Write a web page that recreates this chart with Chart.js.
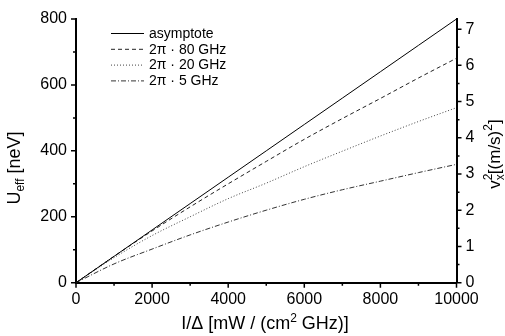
<!DOCTYPE html>
<html>
<head>
<meta charset="utf-8">
<script src="https://cdn.jsdelivr.net/npm/chart.js@4/dist/chart.umd.min.js"></script>
<style>
  html, body { margin: 0; padding: 0; background: #fff; }
  #wrap { width: 505px; height: 336px; position: relative; }
</style>
</head>
<body>
<div id="wrap"><canvas id="c"></canvas></div>
<script>
/* ===== DATA ===== */
const xVals = [0, 1000, 2000, 3000, 4000, 5000, 6000, 7000, 8000, 9000, 10000];
const asymptote = [0, 80, 160, 240, 320, 400, 480, 560, 640, 720, 800];
const ghz80 = [0, 80, 157, 230, 300, 368, 435, 498, 559, 621, 681];
const ghz20 = [0, 76, 143, 200, 255, 302, 352, 399, 445, 489, 531];
const ghz5 = [0, 57, 102, 145, 184, 220, 253, 282, 308, 334, 359];
const seriesNames = ["asymptote", "2\u03c0 \u00b7 80 GHz", "2\u03c0 \u00b7 20 GHz", "2\u03c0 \u00b7 5 GHz"];
const xTicks = [0, 2000, 4000, 6000, 8000, 10000];
const yTicks = [0, 200, 400, 600, 800];
const y2Ticks = [0, 1, 2, 3, 4, 5, 6, 7];
/* ================ */

const FONT = "'Liberation Sans', Arial, sans-serif";

function pts(ys) {
  return xVals.map((x, i) => ({ x: x, y: ys[i] }));
}

const styles = [
  { color: "#000", dash: [] },
  { color: "#222", dash: [4, 3] },
  { color: "#444", dash: [1, 2] },
  { color: "#333", dash: [5, 2, 1, 2] }
];

const datasets = [asymptote, ghz80, ghz20, ghz5].map((ys, i) => ({
  label: seriesNames[i],
  data: pts(ys),
  borderColor: styles[i].color,
  borderDash: styles[i].dash,
  borderWidth: 1,
  pointRadius: 0,
  fill: false,
  cubicInterpolationMode: "monotone"
}));

// text pieces in a row, centred on x; each piece {t, size, dy}
function drawRich(ctx, parts, x, y) {
  let w = 0;
  parts.forEach((p) => {
    ctx.font = p.size + "px " + FONT;
    w += p.adv === 0 ? 0 : ctx.measureText(p.t).width;
  });
  let cx = x - w / 2;
  parts.forEach((p) => {
    ctx.font = p.size + "px " + FONT;
    ctx.fillText(p.t, cx, y + (p.dy || 0));
    if (p.adv !== 0) cx += ctx.measureText(p.t).width;
  });
}

const decor = {
  id: "decor",
  afterDraw(chart) {
    const ctx = chart.ctx;
    const a = chart.chartArea;
    const xs = chart.scales.x, ys = chart.scales.y, y2 = chart.scales.y2;
    ctx.save();
    ctx.strokeStyle = "#000";
    ctx.lineWidth = 1.5;
    ctx.setLineDash([]);
    ctx.beginPath();
    // x ticks
    for (let v = 0; v <= 10000; v += 1000) {
      const px = xs.getPixelForValue(v);
      const len = v % 2000 === 0 ? 5 : 3;
      ctx.moveTo(px, a.bottom); ctx.lineTo(px, a.bottom + len);
    }
    // left y ticks
    for (let v = 0; v <= 800; v += 100) {
      const py = ys.getPixelForValue(v);
      const len = v % 200 === 0 ? 5 : 3;
      ctx.moveTo(a.left, py); ctx.lineTo(a.left - len, py);
    }
    // right y ticks
    for (let v = 0; v <= 7; v += 0.5) {
      const py = y2.getPixelForValue(v);
      const len = v % 1 === 0 ? 5 : 3;
      ctx.moveTo(a.right, py); ctx.lineTo(a.right + len, py);
    }
    ctx.stroke();

    // legend
    const lx = 111, lw = 33;
    ctx.textBaseline = "middle";
    ctx.textAlign = "left";
    chart.data.datasets.forEach((ds, i) => {
      const ly = 33.5 + i * 15.8;
      ctx.strokeStyle = ds.borderColor;
      ctx.lineWidth = 1;
      ctx.setLineDash(ds.borderDash);
      ctx.beginPath();
      ctx.moveTo(lx, ly); ctx.lineTo(lx + lw, ly);
      ctx.stroke();
      ctx.setLineDash([]);
      ctx.fillStyle = "#000";
      ctx.font = "14px " + FONT;
      ctx.fillText(ds.label, lx + lw + 5, ly + 0.5);
    });

    // axis titles
    ctx.fillStyle = "#000";
    ctx.textBaseline = "alphabetic";
    ctx.textAlign = "left";
    drawRich(ctx, [
      { t: "I/\u0394 [mW / (cm", size: 18 },
      { t: "2", size: 12, dy: -7 },
      { t: " GHz)]", size: 18 }
    ], 265, 329);

    ctx.save();
    ctx.translate(20, 168);
    ctx.rotate(-Math.PI / 2);
    drawRich(ctx, [
      { t: "U", size: 18 },
      { t: "eff", size: 12, dy: 4 },
      { t: " [neV]", size: 18 }
    ], 0, 0);
    ctx.restore();

    ctx.save();
    ctx.translate(500, 154);
    ctx.rotate(-Math.PI / 2);
    drawRich(ctx, [
      { t: "v", size: 17 },
      { t: "2", size: 12, dy: -8, adv: 0 },
      { t: "x", size: 12, dy: 4 },
      { t: "[(m/s)", size: 17 },
      { t: "2", size: 12, dy: -8 },
      { t: "]", size: 17 }
    ], 0, 0);
    ctx.restore();

    ctx.restore();
  }
};

const tickFont = { size: 16, family: FONT };

new Chart(document.getElementById("c"), {
  type: "line",
  data: { datasets: datasets },
  options: {
    responsive: true,
    maintainAspectRatio: false,
    animation: false,
    layout: { padding: { top: 19, left: 0, right: 0, bottom: 0 } },
    plugins: { legend: { display: false }, tooltip: { enabled: false } },
    scales: {
      x: {
        type: "linear",
        min: 0,
        max: 10000,
        afterBuildTicks: (s) => { s.ticks = xTicks.map((v) => ({ value: v })); },
        afterFit: (s) => { s.height = 53.3; },
        grid: { display: false, drawTicks: false },
        border: { display: true, color: "#000", width: 2 },
        ticks: { color: "#000", font: tickFont, padding: 7, maxRotation: 0, callback: (v) => String(v) }
      },
      y: {
        position: "left",
        min: 0,
        max: 800,
        afterBuildTicks: (s) => { s.ticks = yTicks.map((v) => ({ value: v })); },
        afterFit: (s) => { s.width = 76; },
        grid: { display: false, drawTicks: false },
        border: { display: true, color: "#000", width: 2 },
        ticks: { color: "#000", font: tickFont, padding: 9, callback: (v) => String(v) }
      },
      y2: {
        position: "right",
        min: 0,
        max: 7.28,
        afterBuildTicks: (s) => { s.ticks = y2Ticks.map((v) => ({ value: v })); },
        afterFit: (s) => { s.width = 48.5; },
        grid: { display: false, drawTicks: false },
        border: { display: true, color: "#000", width: 2 },
        ticks: { color: "#000", font: tickFont, padding: 9, callback: (v) => String(v) }
      }
    }
  },
  plugins: [decor]
});
</script>
</body>
</html>
